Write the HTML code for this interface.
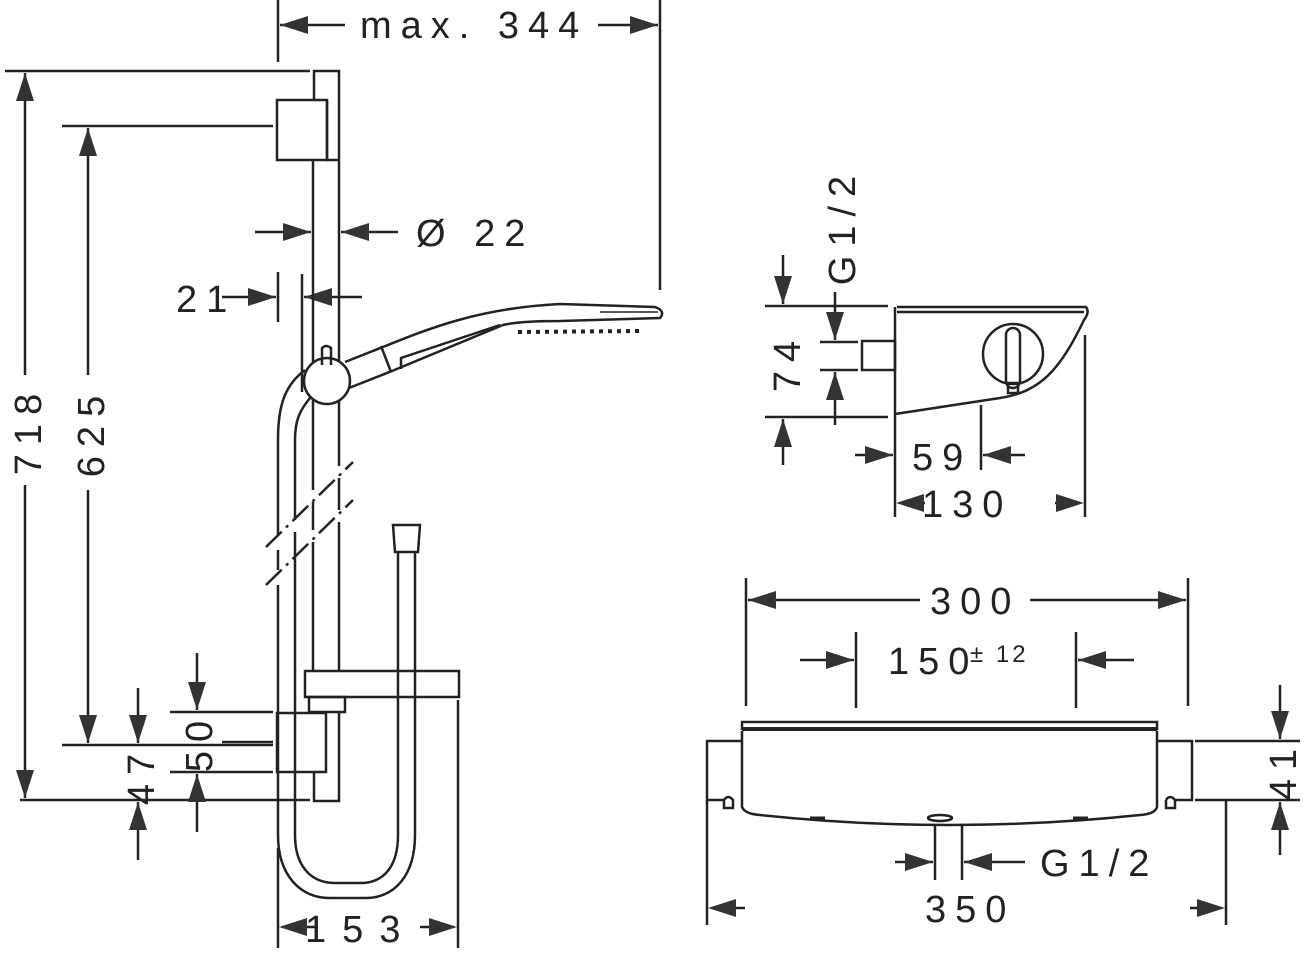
<!DOCTYPE html>
<html><head><meta charset="utf-8"><style>
html,body{margin:0;padding:0;background:#fff}
svg{display:block}
text{font-family:"Liberation Sans",sans-serif;font-size:38px;fill:#222;letter-spacing:9px}
</style></head><body>
<svg width="1306" height="956" viewBox="0 0 1306 956" xmlns="http://www.w3.org/2000/svg">
<defs>
<marker id="a" viewBox="0 0 28 18" refX="28" refY="9" markerWidth="28" markerHeight="18" markerUnits="userSpaceOnUse" orient="auto">
<path d="M0,0 L28,9 L0,18 z" fill="#333"/></marker>
</defs>
<g stroke="#222" stroke-width="2.5" fill="none">
<!-- max 344 -->
<line x1="278" y1="0" x2="278" y2="62"/>
<line x1="660" y1="0" x2="660" y2="290"/>
<line x1="345" y1="25" x2="280" y2="25" marker-end="url(#a)"/>
<line x1="598" y1="25" x2="658" y2="25" marker-end="url(#a)"/>
<!-- 718 -->
<line x1="5" y1="71" x2="310" y2="71"/>
<line x1="20" y1="800" x2="310" y2="800"/>
<line x1="25" y1="375" x2="25" y2="73" marker-end="url(#a)"/>
<line x1="25" y1="485" x2="25" y2="798" marker-end="url(#a)"/>
<!-- 625 -->
<line x1="62" y1="126" x2="273" y2="126"/>
<line x1="62" y1="745" x2="273" y2="745"/>
<line x1="88" y1="375" x2="88" y2="128" marker-end="url(#a)"/>
<line x1="88" y1="490" x2="88" y2="743" marker-end="url(#a)"/>
<!-- 47 -->
<line x1="138" y1="688" x2="138" y2="743" marker-end="url(#a)"/>
<line x1="138" y1="860" x2="138" y2="802" marker-end="url(#a)"/>
<!-- 50 -->
<line x1="170" y1="712" x2="273" y2="712"/>
<line x1="170" y1="772" x2="273" y2="772"/>
<line x1="222" y1="742" x2="273" y2="742"/>
<line x1="197" y1="653" x2="197" y2="710" marker-end="url(#a)"/>
<line x1="197" y1="832" x2="197" y2="774" marker-end="url(#a)"/>
<!-- 22 -->
<line x1="255" y1="232" x2="311" y2="232" marker-end="url(#a)"/>
<line x1="398" y1="232" x2="341" y2="232" marker-end="url(#a)"/>
<!-- 21 -->
<line x1="278" y1="272" x2="278" y2="322"/>
<line x1="302" y1="274" x2="302" y2="392"/>
<line x1="222" y1="297" x2="276" y2="297" marker-end="url(#a)"/>
<line x1="362" y1="297" x2="304" y2="297" marker-end="url(#a)"/>
<!-- 153 -->
<line x1="278" y1="848" x2="278" y2="948"/>
<line x1="458" y1="700" x2="458" y2="948"/>
<line x1="318" y1="927" x2="300" y2="927"/>
<line x1="420" y1="927" x2="436" y2="927"/>

<!-- rail -->
<path d="M314,100 L314,71 L339,71 L339,466"/>
<path d="M339,478 L339,510"/>
<path d="M339,522 L339,671"/>
<path d="M339,712 L339,801 L314,801 L314,772"/>
<path d="M313,160 L313,490"/><path d="M313,502 L313,530"/><path d="M313,542 L313,671"/>
<rect x="277" y="100" width="50" height="60"/>
<path d="M327,100 L327,160 L339,160"/>
<!-- knob -->
<circle cx="327" cy="381" r="23" fill="#fff"/>
<path d="M322,365 L322,348 Q326,344 331,348 L331,365"/>
<!-- hose -->
<path d="M305,370 C285,385 278,405 278,440 L278,535"/>
<path d="M278,550 L278,570"/><path d="M278,585 L278,835 C278,875 300,898 330,898 L365,898 C395,898 415,875 415,835 L415,552"/>
<path d="M310,398 C300,410 295,420 295,440 L295,520"/>
<path d="M295,532 L295,835 C295,865 310,883 335,883 L360,883 C385,883 398,865 398,835 L398,552"/>
<path d="M393,525 L420,525 L418,552 L395,552 Z"/>
<!-- break lines -->
<line x1="266" y1="547" x2="353" y2="462" stroke-dasharray="22,6,3,6"/>
<line x1="266" y1="585" x2="353" y2="500" stroke-dasharray="22,6,3,6"/>
<!-- shelf -->
<rect x="305" y="671" width="154" height="26"/>
<rect x="309" y="697" width="36" height="15"/>
<rect x="277" y="713" width="49" height="59"/>
<!-- handshower -->
<path d="M345,362 L383,347 C430,328 480,308 560,304 L655,307 Q666,311 660,318 L560,321 Q520,321 503,325 L392,371 L349,388"/>
<line x1="381" y1="346" x2="391" y2="372"/>
<path d="M401,369 L401,358 L500,325"/>
<line x1="600" y1="312" x2="658" y2="312" stroke-width="1.5"/>
<line x1="518" y1="332" x2="640" y2="331" stroke-width="4" stroke-dasharray="4,5"/>

<!-- side view thermostat -->
<path d="M897,307 L1086,307 Q1090,312 1084,320 C1060,370 1040,392 1000,398 L895,414 L895,307"/>
<line x1="897" y1="312" x2="1084" y2="312"/>
<rect x="862" y="341" width="33" height="29"/>
<circle cx="1013" cy="354" r="30"/>
<rect x="1006" y="328" width="14" height="60" rx="7"/>
<rect x="1008" y="383" width="10" height="10"/>
<line x1="765" y1="306" x2="888" y2="306"/>
<line x1="765" y1="417" x2="888" y2="417"/>
<line x1="783" y1="255" x2="783" y2="304" marker-end="url(#a)"/>
<line x1="783" y1="465" x2="783" y2="419" marker-end="url(#a)"/>
<line x1="820" y1="342" x2="858" y2="342"/>
<line x1="820" y1="370" x2="858" y2="370"/>
<line x1="835" y1="292" x2="835" y2="340" marker-end="url(#a)"/>
<line x1="835" y1="425" x2="835" y2="372" marker-end="url(#a)"/>
<line x1="895" y1="415" x2="895" y2="517"/>
<line x1="981" y1="405" x2="981" y2="470"/>
<line x1="1085" y1="335" x2="1085" y2="517"/>
<line x1="855" y1="455" x2="893" y2="455" marker-end="url(#a)"/>
<line x1="1025" y1="455" x2="983" y2="455" marker-end="url(#a)"/>
<line x1="925" y1="503" x2="915" y2="503"/>
<line x1="1055" y1="503" x2="1065" y2="503"/>

<!-- front view -->
<line x1="746" y1="578" x2="746" y2="706"/>
<line x1="1188" y1="578" x2="1188" y2="706"/>
<line x1="920" y1="600" x2="748" y2="600" marker-end="url(#a)"/>
<line x1="1030" y1="600" x2="1186" y2="600" marker-end="url(#a)"/>
<line x1="856" y1="632" x2="856" y2="708"/>
<line x1="1076" y1="632" x2="1076" y2="708"/>
<line x1="800" y1="660" x2="854" y2="660" marker-end="url(#a)"/>
<line x1="1134" y1="660" x2="1078" y2="660" marker-end="url(#a)"/>
<path d="M742,730 L742,722 L1157,722 L1157,730"/>
<rect x="742" y="727" width="415" height="4" fill="#222" stroke="none"/>
<path d="M742,731 L742,807 Q745,814 760,815 Q950,835 1140,815 Q1155,814 1157,807 L1157,731"/>
<path d="M742,741 L707,741 L707,800 L724,800"/>
<path d="M1157,741 L1192,741 L1192,800 L1175,800"/>
<path d="M724,800 L724,808 L733,808 L733,800 Q728,794 724,800"/>
<path d="M1166,800 L1166,808 L1175,808 L1175,800 Q1170,794 1166,800"/>
<ellipse cx="940" cy="818" rx="12" ry="3"/>
<line x1="810" y1="818" x2="825" y2="818" stroke-width="3"/>
<line x1="1073" y1="818" x2="1088" y2="818" stroke-width="3"/>
<line x1="1195" y1="741" x2="1300" y2="741"/>
<line x1="1195" y1="800" x2="1300" y2="800"/>
<line x1="1280" y1="685" x2="1280" y2="739" marker-end="url(#a)"/>
<line x1="1280" y1="855" x2="1280" y2="802" marker-end="url(#a)"/>
<line x1="935" y1="825" x2="935" y2="880"/>
<line x1="962" y1="825" x2="962" y2="880"/>
<line x1="895" y1="862" x2="933" y2="862" marker-end="url(#a)"/>
<line x1="1025" y1="862" x2="964" y2="862" marker-end="url(#a)"/>
<line x1="707" y1="800" x2="707" y2="925"/>
<line x1="1226" y1="800" x2="1226" y2="925"/>
<line x1="745" y1="908" x2="735" y2="908"/>
<line x1="1190" y1="908" x2="1198" y2="908"/>
</g>
<g fill="#333">
<polygon points="279,927 307,918 307,936"/>
<polygon points="457,927 429,918 429,936"/>
<polygon points="896,503 924,494 924,512"/>
<polygon points="1084,503 1056,494 1056,512"/>
<polygon points="708,908 736,899 736,917"/>
<polygon points="1225,908 1197,899 1197,917"/>
</g>

<text x="360" y="38">max. 344</text>
<text x="416" y="246">Ø 22</text>
<text x="176" y="312">21</text>
<text x="305" y="942" style="letter-spacing:16px">153</text>
<text transform="translate(41,430) rotate(-90)" text-anchor="middle">718</text>
<text transform="translate(104,432) rotate(-90)" text-anchor="middle">625</text>
<text transform="translate(154,775) rotate(-90)" text-anchor="middle">47</text>
<text transform="translate(212,742) rotate(-90)" text-anchor="middle">50</text>
<text transform="translate(855,226) rotate(-90)" text-anchor="middle">G1/2</text>
<text transform="translate(800,362) rotate(-90)" text-anchor="middle">74</text>
<text x="912" y="470">59</text>
<text x="922" y="517">130</text>
<text x="930" y="614">300</text>
<text x="888" y="674">150</text>
<text x="970" y="662" style="font-size:24px;letter-spacing:3px">± 12</text>
<text transform="translate(1296,770) rotate(-90)" text-anchor="middle">41</text>
<text x="1040" y="876">G1/2</text>
<text x="925" y="922">350</text>
</svg>
</body></html>
